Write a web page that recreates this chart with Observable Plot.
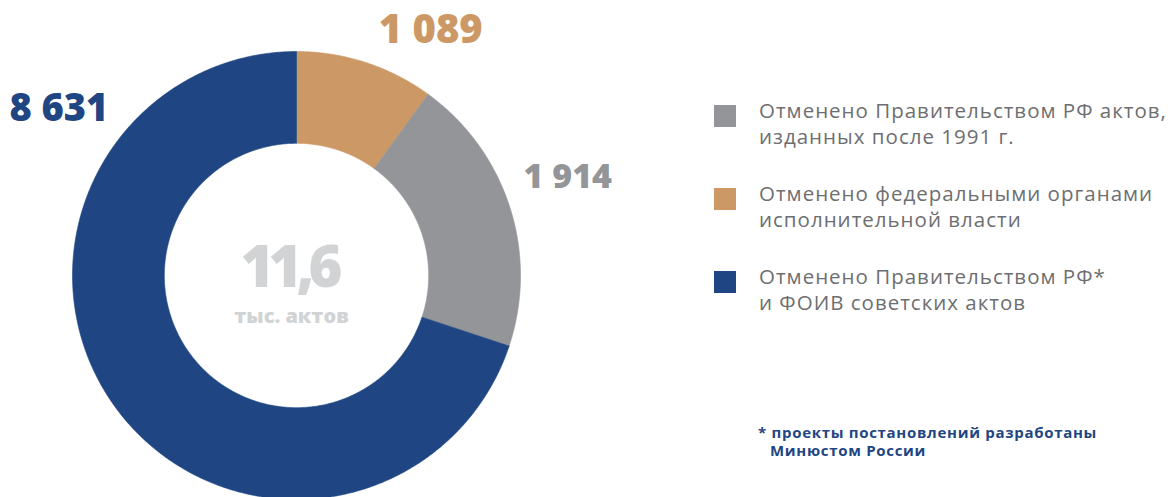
<!DOCTYPE html>
<html><head><meta charset="utf-8">
<script src="https://cdn.jsdelivr.net/npm/d3@7"></script>
<script src="https://cdn.jsdelivr.net/npm/@observablehq/plot@0.6"></script>
<style>
body{margin:0;background:#fff;font-family:"Open Sans",sans-serif;}
#wrap{position:relative;width:1176px;height:497px;overflow:hidden;background:#fff;}
#chart{position:absolute;left:0;top:0;}
.item{position:absolute;left:714px;}
.sw{position:absolute;left:0;width:22px;height:22px;}
.lt{position:absolute;left:45px;white-space:nowrap;font-size:20.5px;letter-spacing:1px;line-height:26px;color:#6D6E71;}
#note{position:absolute;left:770px;top:423px;text-indent:-12px;font-size:15px;letter-spacing:0.7px;line-height:18px;font-weight:700;color:#1F4683;white-space:nowrap;}
</style></head><body>
<div id="wrap"><div id="chart"></div><div id="legend"></div><div id="note"></div></div>
<script>
// slices, clockwise from 12 o'clock
const sliceKeys = ["fed", "gov", "soviet"];
const sliceValues = [1089, 1914, 8631];            // numbers printed on the chart
const arcShare = [10.0, 20.1, 69.9];               // angular share of each slice as drawn (%)
const sliceColors = ["#CC9966", "#939598", "#1F4683"];
const valueLabels = ["1 089", "1 914", "8 631"];
// legend
const legendKeys = ["gov", "fed", "soviet"];
const legendLines = [
  ["Отменено Правительством РФ актов,", "изданных после 1991 г."],
  ["Отменено федеральными органами", "исполнительной власти"],
  ["Отменено Правительством РФ*", "и ФОИВ советских актов"]
];
const totalLabel = "11,6";
const totalUnit = "тыс. актов";
const footnoteLines = ["* проекты постановлений разработаны", "Минюстом России"];

// layout (pixels)
const labelOffset = {fed: [65, -32], gov: [58, -30], soviet: [-56, -298]};
const labelSize = {fed: 40, gov: 34, soviet: 38};
const innerRatio = 0.59;

const rows = sliceKeys.map((k, i) => ({key: k, value: sliceValues[i], share: arcShare[i], label: valueLabels[i]}));
const arcs = d3.pie().sort(null).value(d => d.share)(rows);

const pts = [];
for (const a of arcs) {
  const n = Math.max(2, Math.ceil((a.endAngle - a.startAngle) / (Math.PI / 360)));
  const ring = [];
  for (let j = 0; j <= n; j++) {
    const t = a.startAngle + (a.endAngle - a.startAngle) * j / n;
    ring.push({key: a.data.key, x: Math.sin(t), y: Math.cos(t)});
  }
  for (let j = n; j >= 0; j--) {
    const t = a.startAngle + (a.endAngle - a.startAngle) * j / n;
    ring.push({key: a.data.key, x: innerRatio * Math.sin(t), y: innerRatio * Math.cos(t)});
  }
  ring.push({...ring[0]});
  pts.push(...ring);
}

const anchors = arcs.map(a => {
  const m = (a.startAngle + a.endAngle) / 2;
  return {key: a.data.key, label: a.data.label, x: Math.sin(m), y: Math.cos(m)};
});

const chart = Plot.plot({
  width: 700, height: 497, margin: 0,
  style: {fontFamily: "'Open Sans', sans-serif", background: "transparent"},
  x: {domain: [-1, 1], range: [72, 520], axis: null},
  y: {domain: [-1, 1], range: [499, 51], axis: null},
  color: {domain: sliceKeys, range: sliceColors},
  marks: [
    Plot.line(pts, {x: "x", y: "y", z: "key", fill: "key", stroke: "key", strokeWidth: 0.6, curve: "linear"}),
    ...anchors.map(d => Plot.text([d], {x: "x", y: "y", text: "label", fill: "key",
      dx: labelOffset[d.key][0], dy: labelOffset[d.key][1], fontSize: labelSize[d.key], fontWeight: 800,
      textAnchor: "middle", lineAnchor: "middle"})),
    Plot.text([totalLabel], {x: () => 0, y: () => 0, text: d => d, dx: -8, dy: -7, fontSize: 58, fontWeight: 800,
      fill: "#D1D3D4", textAnchor: "middle", lineAnchor: "middle"}),
    Plot.text([totalUnit], {x: () => 0, y: () => 0, text: d => d, dx: -5, dy: 41, fontSize: 20, fontWeight: 800,
      fill: "#D1D3D4", textAnchor: "middle", lineAnchor: "middle"})
  ]
});
d3.select(chart).selectAll("text").filter(function () { return this.textContent === totalLabel; })
  .attr("letter-spacing", "-6px");
document.getElementById("chart").appendChild(chart);

const colorOf = Object.fromEntries(sliceKeys.map((k, i) => [k, sliceColors[i]]));
const leg = document.getElementById("legend");
legendKeys.forEach((k, i) => {
  const it = document.createElement("div");
  it.className = "item";
  it.style.top = (97 + i * 83) + "px";
  const sw = document.createElement("div");
  sw.className = "sw"; sw.style.top = "8px"; sw.style.background = colorOf[k];
  const lt = document.createElement("div");
  lt.className = "lt"; lt.style.top = "0px";
  lt.innerHTML = legendLines[i].join("<br>");
  it.appendChild(sw); it.appendChild(lt);
  leg.appendChild(it);
});
document.getElementById("note").innerHTML = footnoteLines.join("<br>");
</script>
</body></html>
